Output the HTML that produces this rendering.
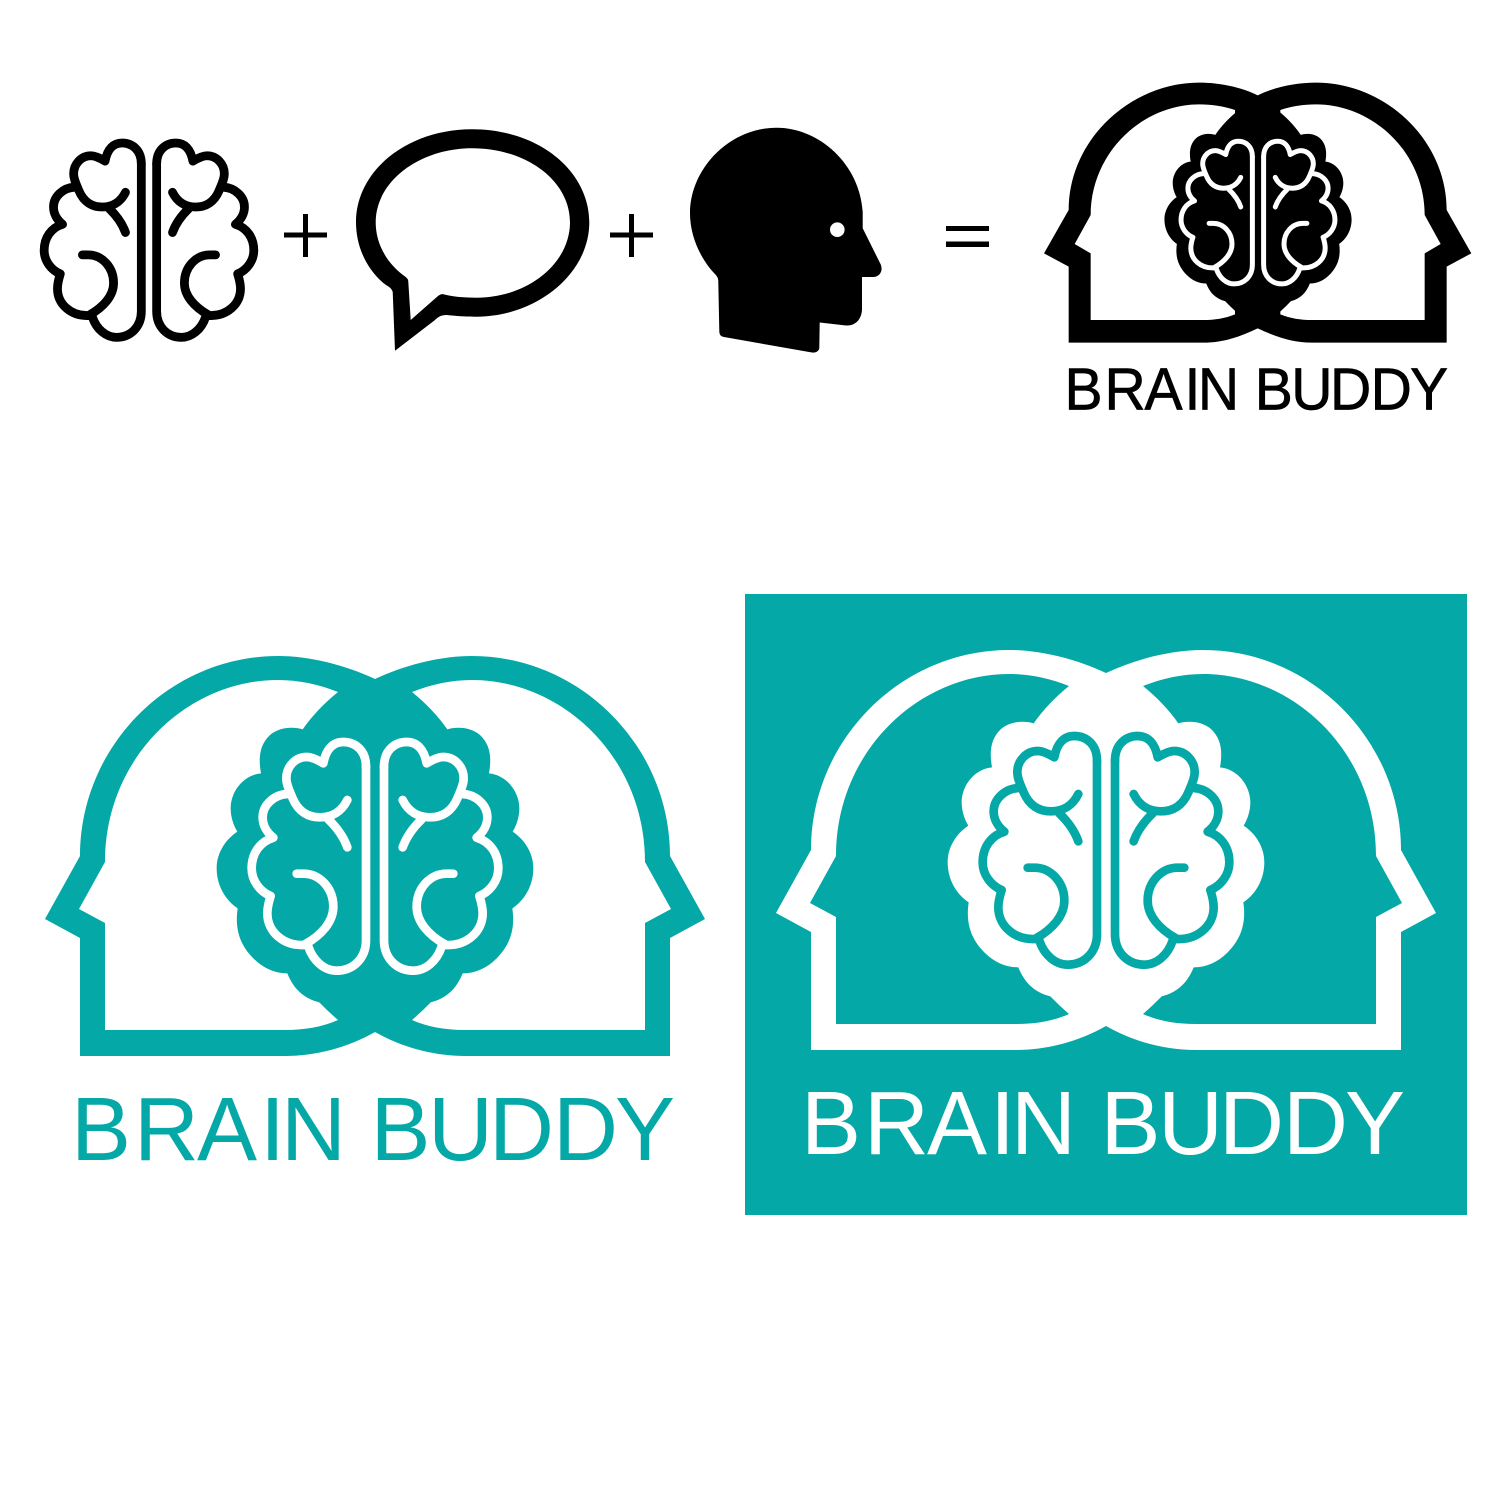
<!DOCTYPE html>
<html><head><meta charset="utf-8"><style>
html,body{margin:0;padding:0;background:#fff}
svg{display:block}
text{font-family:"Liberation Sans",sans-serif;font-size:90px}
.b{fill:none;stroke:var(--b);stroke-width:var(--sw);stroke-linecap:round;stroke-linejoin:round}
</style></head><body>
<svg xmlns="http://www.w3.org/2000/svg" width="1500" height="1500" viewBox="0 0 1500 1500">
<defs>
<g id="brainL" class="b">
<path d="M498 200C498 150 465 126 430 126C400 126 378 146 370 190C350 178 335 171 320 171C286 171 259 200 259 235C259 255 270 275 278 295C295 335 325 352 360 352C395 352 425 335 442 300"/>
<path d="M385 358C410 382 430 408 442 442"/>
<path d="M262 282C222 284 188 315 188 352C188 375 200 397 220 413C180 425 155 460 155 505C155 542 180 575 212 588C205 610 202 625 202 640C202 695 250 738 312 735C325 735 325 738 325 740C340 785 375 812 410 812C460 812 498 775 498 720V200"/>
<path d="M290 521H310C360 521 400 565 400 620C400 665 365 705 315 733"/>
</g>
<g id="brain"><use href="#brainL"/><use href="#brainL" transform="translate(1050,0) scale(-1,1)"/></g>
<path id="blobL" d="M526 -24H414Q350 28 308 88C280 80 240 80 210 105C178 135 175 175 183 220C130 225 92 275 92 325C92 350 100 375 112 395C75 420 50 460 50 505C50 555 75 600 113 625C105 680 115 730 160 775C190 805 225 820 262 820C280 865 310 895 358 907Q385 935 414 960H526Z"/>
<g id="blob"><use href="#blobL"/><use href="#blobL" transform="translate(1050,0) scale(-1,1)"/></g>

<g id="tealHeadL">
<path style="fill:var(--f)" d="M376 679H375C345 665 310 656 278 656C170 656 80 746 80 856L45 919L80 938V1056H285C315 1056 347 1048 375 1032H376Z"/>
<path style="fill:var(--i)" d="M338 692C318 684 298 680 278 680C188 680 105 757 105 862L79 909L105 923V1030H285C305 1030 322 1027 338 1020Z"/>
</g>
<g id="logo">
<use href="#tealHeadL"/><use href="#tealHeadL" transform="translate(750,0) scale(-1,1)"/>
<g transform="translate(200,700) scale(.33333)" style="fill:var(--f)"><use href="#blob"/></g>
<g transform="translate(200,700) scale(.33333)" style="--b:var(--i);--sw:26"><use href="#brain"/></g>
</g>
<g id="blackHeadL">
<path fill="#000" d="M654 76H653C600 50 535 38 478 38C270 38 86 210 86 420L12 550L86 590V818H490C550 818 600 800 653 775H654Z"/>
<path fill="#fff" d="M585 120C550 108 515 103 478 103C305 103 152 250 152 435L104 522L152 550V750H490C525 750 555 745 585 733Z"/>
</g>
</defs>

<rect width="1500" height="1500" fill="#fff"/>

<!-- top row -->
<g transform="translate(.25,107.3) scale(.2833)" style="--b:#000;--sw:31"><use href="#brain"/></g>
<path fill="#000" d="M284 232.500H303V214H308V232.500H327V237.500H308V257H303V237.500H284ZM610 232.500H629V214H634V232.500H653V237.500H634V257H629V237.500H610Z"/>
<path fill="#000" fill-rule="evenodd" d="M472 129.300C540 129.300 589.300 172 589.300 222.300C589.300 275 535 316.700 476.700 316.700C465 316.700 456 316 446.700 315C441 315 438 317 435 320L395 350.700L392.700 291.700C391 287 387 286 383.300 283C366 268 356 246 356 222.300C356 170 408 129.300 472 129.300ZM472 148.300C420 148.300 375.700 181 375.700 222.300C375.700 243 386 262 403 275C407 278 408.300 279 408.300 281.700L410.700 320L438 296C441 294 442 294 443.300 294.300C453 297 465 297.700 476.700 297.700C527 297.700 570 264 570 222.300C570 181 527 148.300 472 148.300Z"/>
<path fill="#000" d="M776.700 127.700C729 127.700 690 169 690 213.300C690 237 701 259 714 273C718 277 718.300 279 718.300 282L719.300 331C719.300 335 721 336.500 724 337L812 352.500C816 353 819 351 819.300 348L819.700 322.500L846 325.500C858 326 862 316 862 309V277H873C880 277 884 270 880 263L862.700 228.300V212C860 165 820 127.700 776.700 127.700Z"/>
<circle cx="837.300" cy="229.700" r="7.300" fill="#fff"/>
<rect x="946" y="226" width="43" height="5" fill="#000"/>
<rect x="946" y="241.500" width="43" height="5.500" fill="#000"/>

<!-- black logo -->
<g transform="translate(1040,70) scale(.33333)">
<use href="#blackHeadL"/><use href="#blackHeadL" transform="translate(1306,0) scale(-1,1)"/>
</g>
<g transform="translate(1154.600,117) scale(.197,.203)" fill="#000"><use href="#blob"/></g>
<g transform="translate(1148.800,115) scale(.208)" style="--b:#fff;--sw:24"><use href="#brain"/></g>
<g transform="translate(555.900,-352.100) scale(.635,.66)" fill="#000" stroke="#000" stroke-width="1">
<text y="1154" x="801 864 927 990 1011">BRAIN</text>
<text y="1154" x="1100.500 1158 1219 1283 1345">BUDDY</text>
</g>

<!-- teal logo on white -->
<g style="--f:#04a8a6;--i:#fff"><use href="#logo"/></g>
<g transform="translate(-730,6)" fill="#04a8a6">
<text y="1154" x="801 864 927 990 1011">BRAIN</text>
<text y="1154" x="1100.500 1158 1219 1283 1345">BUDDY</text>
</g>

<!-- reversed logo -->
<rect x="745" y="594" width="722" height="621" fill="#04a8a6"/>
<g transform="translate(731,-6)" style="--f:#fff;--i:#04a8a6"><use href="#logo"/></g>
<g fill="#fff">
<text y="1154" x="801 864 927 990 1011">BRAIN</text>
<text y="1154" x="1100.500 1158 1219 1283 1345">BUDDY</text>
</g>
</svg>
</body></html>
